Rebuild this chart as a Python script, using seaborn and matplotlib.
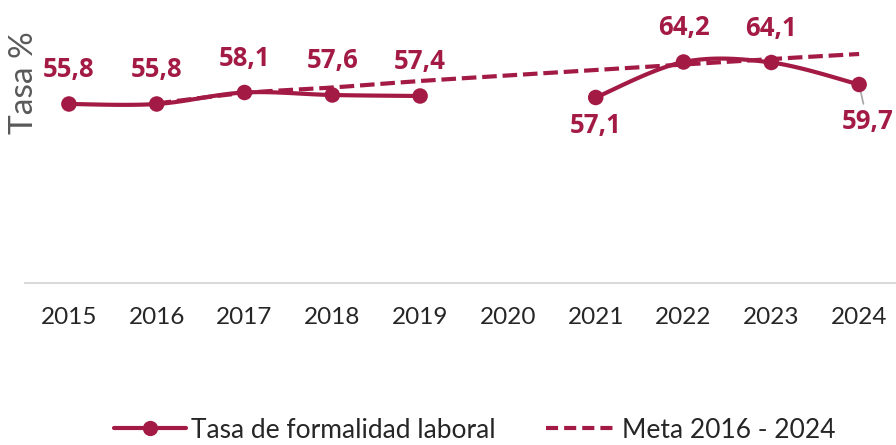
import numpy as np
import pandas as pd
import seaborn as sns
import matplotlib
matplotlib.use("Agg")
import matplotlib.pyplot as plt
from matplotlib.lines import Line2D

years = [2015, 2016, 2017, 2018, 2019, 2020, 2021, 2022, 2023, 2024]
tasa = [55.8, 55.8, 58.1, 57.6, 57.4, np.nan, 57.1, 64.2, 64.1, 59.7]
meta_years = [2016, 2017, 2018, 2019, 2020, 2021, 2022, 2023, 2024]
meta = [55.9, 58.0, 59.1, 60.4, 61.5, 62.6, 63.7, 64.8, 65.8]
labels = ["55,8", "55,8", "58,1", "57,6", "57,4", "", "57,1", "64,2", "64,1", "59,7"]
label_below = [False, False, False, False, False, False, True, False, False, True]

RED = "#A31B45"
sns.set_theme(style="white")
plt.rcParams['font.family'] = ['Lato', 'DejaVu Sans']

fig = plt.figure(figsize=(8.96, 4.45), dpi=100)
W, H = 896, 445
ymin, ymax = 20, 72
ppu = 5.0
bottom_px = 283
ax = fig.add_axes([25 / W, (H - bottom_px) / H, (896 - 25) / W, (ymax - ymin) * ppu / H])
ax.set_xlim(-0.5, 9.42)
ax.set_ylim(ymin, ymax)

idx = np.arange(len(years))


def smooth_segments(xs, ys, n=30):
    """Excel-style smoothing (Catmull-Rom Bezier) for rendering; returns dense points."""
    out_x, out_y = [], []
    m = len(xs)
    for i in range(m - 1):
        p0 = np.array([xs[max(i - 1, 0)], ys[max(i - 1, 0)]])
        p1 = np.array([xs[i], ys[i]])
        p2 = np.array([xs[i + 1], ys[i + 1]])
        p3 = np.array([xs[min(i + 2, m - 1)], ys[min(i + 2, m - 1)]])
        b1 = p1 + (p2 - p0) / 6.0
        b2 = p2 - (p3 - p1) / 6.0
        t = np.linspace(0, 1, n)[:, None]
        pts = ((1 - t) ** 3) * p1 + 3 * ((1 - t) ** 2) * t * b1 + 3 * (1 - t) * t ** 2 * b2 + t ** 3 * p2
        out_x.extend(pts[:, 0]); out_y.extend(pts[:, 1])
    return out_x, out_y


segs, cur = [], []
for i, v in enumerate(tasa):
    if np.isnan(v):
        if cur:
            segs.append(cur); cur = []
    else:
        cur.append(i)
if cur:
    segs.append(cur)

LW = 3.0
mx = [years.index(y) for y in meta_years]
sx, sy = smooth_segments(mx, meta)
sns.lineplot(x=sx, y=sy, ax=ax, color=RED, lw=LW, sort=False, estimator=None)
ax.lines[-1].set_dashes([3.5, 1.4])
ax.lines[-1].set_dash_capstyle('butt')

for s in segs:
    sx, sy = smooth_segments([idx[i] for i in s], [tasa[i] for i in s])
    sns.lineplot(x=sx, y=sy, ax=ax, color=RED, lw=LW, sort=False, estimator=None)

df = pd.DataFrame({"x": idx, "y": tasa}).dropna()
sns.scatterplot(data=df, x="x", y="y", ax=ax, color=RED, s=125, edgecolor="none", zorder=5)

LBL = dict(ha="center", va="center", fontsize=18.5, fontweight="bold", color=RED,
           family=["Open Sans", "DejaVu Sans"])
for i, (v, lab, below) in enumerate(zip(tasa, labels, label_below)):
    if np.isnan(v):
        continue
    if below:
        if i == len(years) - 1:
            ax.annotate(lab, xy=(i, v), xytext=(6, -27), textcoords="offset points",
                        arrowprops=dict(arrowstyle="-", color="#A6A6A6", lw=1.2,
                                        shrinkA=1, shrinkB=2), **LBL)
        else:
            ax.annotate(lab, xy=(i, v), xytext=(0, -20), textcoords="offset points", **LBL)
    else:
        ax.annotate(lab, xy=(i, v), xytext=(0, 24.5), textcoords="offset points", **LBL)

ax.set_xticks(idx)
ax.set_xticklabels([str(y) for y in years], fontsize=17.5, color="#262626")
ax.tick_params(axis="x", length=0, pad=17)
ax.set_yticks([])
ax.set_xlabel("")
ax.set_ylabel("")
for sp in ["left", "top", "right"]:
    ax.spines[sp].set_visible(False)
ax.spines["bottom"].set_color("#D9D9D9")
ax.spines["bottom"].set_linewidth(1.5)

fig.text(24 / W, 1 - 83 / H, "Tasa %", rotation=90, ha="center", va="center",
         fontsize=24, color="#595959")

handles = [
    Line2D([], [], color=RED, lw=LW, marker="o", markersize=11, markeredgewidth=0),
    Line2D([], [], color=RED, lw=LW, dashes=[2.9, 1.45]),
]
fig.legend(handles, ["Tasa de formalidad laboral", "Meta 2016 - 2024"],
           loc="center", bbox_to_anchor=(475 / W, 1 - 430 / H), ncol=2, frameon=False,
           fontsize=19, handlelength=2.7, handletextpad=0.2, columnspacing=1.9,
           labelcolor="#262626")

fig.savefig("out.png", dpi=100)
